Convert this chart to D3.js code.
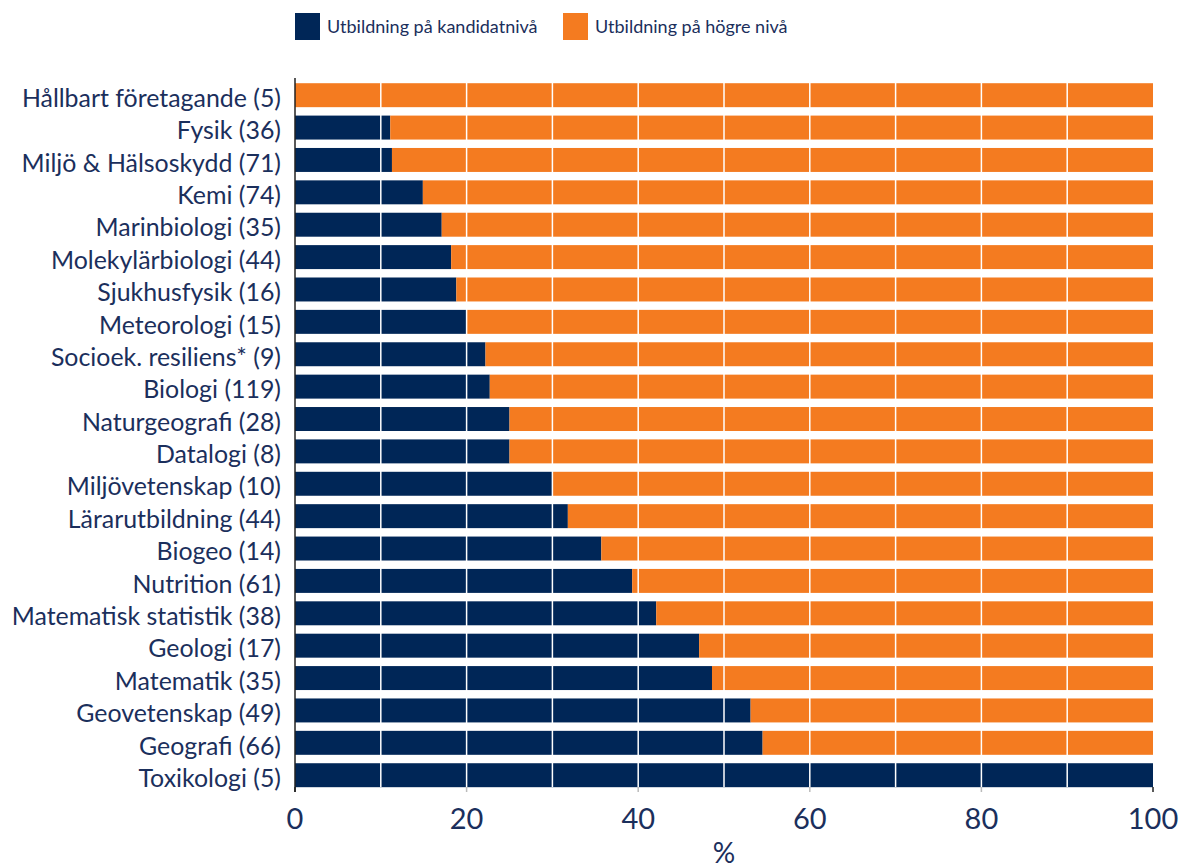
<!DOCTYPE html>
<html>
<head>
<meta charset="utf-8">
<script src="https://cdn.jsdelivr.net/npm/d3@7"></script>
<style>
  body { margin: 0; background: #fff; }
  svg { display: block; }
</style>
</head>
<body>
<svg id="chart" width="1179" height="868"></svg>
<script>
const categories = [
  "Hållbart företagande (5)",
  "Fysik (36)",
  "Miljö & Hälsoskydd (71)",
  "Kemi (74)",
  "Marinbiologi (35)",
  "Molekylärbiologi (44)",
  "Sjukhusfysik (16)",
  "Meteorologi (15)",
  "Socioek. resiliens* (9)",
  "Biologi (119)",
  "Naturgeografi (28)",
  "Datalogi (8)",
  "Miljövetenskap (10)",
  "Lärarutbildning (44)",
  "Biogeo (14)",
  "Nutrition (61)",
  "Matematisk statistik (38)",
  "Geologi (17)",
  "Matematik (35)",
  "Geovetenskap (49)",
  "Geografi (66)",
  "Toxikologi (5)"
];

// share (%) with a bachelor-level degree
const kandidat = [0, 11.1, 11.3, 14.9, 17.1, 18.2, 18.8, 20, 22.2, 22.7, 25, 25, 30, 31.8, 35.7, 39.3, 42.1, 47.1, 48.6, 53.1, 54.5, 100];
// share (%) with a higher-level degree
const hogre = kandidat.map(v => 100 - v);

const seriesNames = ["Utbildning på kandidatnivå", "Utbildning på högre nivå"];
const seriesColors = ["#002657", "#f47b20"];
const xTicks = [0, 20, 40, 60, 80, 100];
const gridValues = d3.range(10, 100, 10);

const textColor = "#1b2f5c";
const font = "Lato, 'Open Sans', sans-serif";

const svg = d3.select("#chart");

const x = d3.scaleLinear().domain([0, 100]).range([295, 1153]);
const y = d3
  .scaleBand()
  .domain(categories)
  .range([79, 791.4])
  .paddingInner(0.26)
  .paddingOuter(0.13);

const rows = categories.map((c, i) => ({ cat: c, k: kandidat[i], h: hogre[i] }));
const stack = d3.stack().keys(["k", "h"])(rows);

// Bars
svg
  .append("g")
  .selectAll("g")
  .data(stack)
  .enter()
  .append("g")
  .attr("fill", (d, i) => seriesColors[i])
  .selectAll("rect")
  .data(d => d)
  .enter()
  .append("rect")
  .attr("x", d => x(d[0]))
  .attr("width", d => x(d[1]) - x(d[0]))
  .attr("y", d => y(d.data.cat))
  .attr("height", y.bandwidth());

// White gridlines over the bars
svg
  .append("g")
  .selectAll("line")
  .data(gridValues)
  .enter()
  .append("line")
  .attr("x1", d => x(d))
  .attr("x2", d => x(d))
  .attr("y1", 79)
  .attr("y2", 787)
  .attr("stroke", "#fff")
  .attr("stroke-width", 1.5);

// Tick marks
svg
  .append("g")
  .selectAll("line")
  .data(xTicks)
  .enter()
  .append("line")
  .attr("x1", d => x(d))
  .attr("x2", d => x(d))
  .attr("y1", 787)
  .attr("y2", 792)
  .attr("stroke", d => (d === 0 || d === 100 ? "#222" : "#bbb"))
  .attr("stroke-width", 1.5);

// Left axis line
svg
  .append("line")
  .attr("x1", x(0))
  .attr("x2", x(0))
  .attr("y1", 78)
  .attr("y2", 792)
  .attr("stroke", "#222")
  .attr("stroke-width", 1.5);

// Category labels
svg
  .append("g")
  .selectAll("text")
  .data(categories)
  .enter()
  .append("text")
  .text(d => d)
  .attr("x", 281)
  .attr("y", d => y(d) + y.bandwidth() / 2 + 3)
  .attr("dy", "0.35em")
  .attr("text-anchor", "end")
  .attr("fill", textColor)
  .attr("font-family", font)
  .attr("font-size", "24.9px");

// X tick labels
svg
  .append("g")
  .selectAll("text")
  .data(xTicks)
  .enter()
  .append("text")
  .text(d => d)
  .attr("x", d => x(d))
  .attr("y", 829)
  .attr("text-anchor", "middle")
  .attr("fill", textColor)
  .attr("font-family", font)
  .attr("font-size", "29px");

svg
  .append("text")
  .text("%")
  .attr("x", x(50))
  .attr("y", 863)
  .attr("text-anchor", "middle")
  .attr("fill", textColor)
  .attr("font-family", font)
  .attr("font-size", "28px");

// Legend
const legendX = [295, 563];
const legend = svg
  .append("g")
  .selectAll("g")
  .data(seriesNames)
  .enter()
  .append("g")
  .attr("transform", (d, i) => `translate(${legendX[i]}, 13)`);

legend
  .append("rect")
  .attr("width", 25)
  .attr("height", 27)
  .attr("fill", (d, i) => seriesColors[i]);

legend
  .append("text")
  .text(d => d)
  .attr("x", 32)
  .attr("y", 14)
  .attr("dy", "0.35em")
  .attr("fill", textColor)
  .attr("font-family", font)
  .attr("font-size", "18px");
</script>
</body>
</html>
